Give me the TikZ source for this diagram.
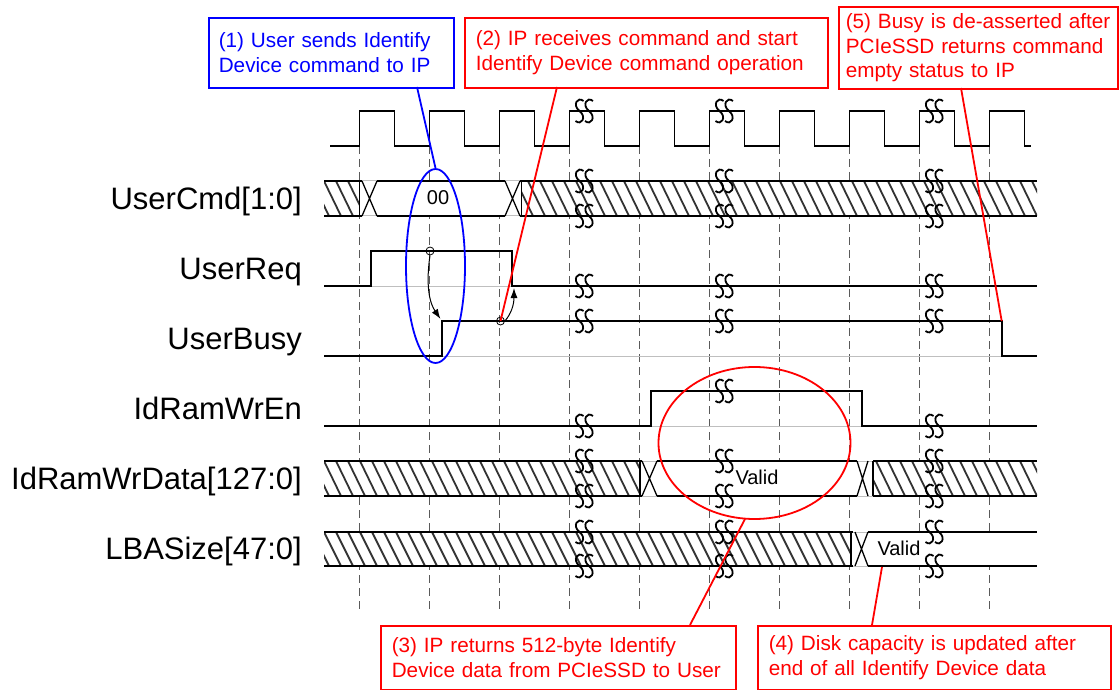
\documentclass[tikz,border=0pt]{standalone}
\usepackage{fontspec}
\setmainfont{Liberation Sans}
\usetikzlibrary{shapes.geometric,arrows.meta}
\tikzset{
  sig/.style={black, line width=1.8pt},
  gridline/.style={draw={rgb,255:red,90;green,90;blue,90}, line width=1.8pt, dash pattern=on 8pt off 5pt},
  baseln/.style={draw=black!25, line width=1pt},
  hatchline/.style={draw=black!80, line width=1.8pt},
  brkline/.style={black, line width=1.8pt},
  siglabel/.style={anchor=base east, inner sep=0pt, font=\fontsize{31}{35}\selectfont},
  busval/.style={inner sep=0pt, font=\fontsize{20}{22}\selectfont},
  callout/.style={line width=1.6pt, anchor=north west, align=left, inner ysep=0pt,
    font=\fontsize{20.7}{24.5}\selectfont},
  marker/.style={draw=black, line width=0.8pt, fill=none},
  evarrow/.style={black, line width=1pt, -{Latex[length=10pt,width=7pt]}},
  redline/.style={red, line width=1.8pt},
  blueline/.style={blue, line width=1.8pt}
}
\newcommand\hatchbox[4]{%
  \fill[white] (#1,#3) rectangle (#2,#4);
  \begin{scope}
    \clip (#1,#3) rectangle (#2,#4);
    \foreach \hx in {300,312,...,1044} \draw[hatchline] (\hx,#3) -- (\hx+17,#4);
  \end{scope}}
\newcommand\brkS[2]{\draw[brkline] (#1+4,#2-10) .. controls (#1-2,#2-15) and (#1-7.5,#2-6) .. (#1,#2) .. controls (#1+7.5,#2+6) and (#1+2,#2+15) .. (#1-4,#2+10);}
\newcommand\brks[2]{\brkS{#1+10}{#2}\brkS{#1+19.5}{#2}}
\begin{document}
\begin{tikzpicture}[x=1pt,y=-1pt]
\useasboundingbox (0,0) rectangle (1120,690);

% grid lines at rising clock edges
\foreach \k in {0,...,9} \draw[gridline] (359.5+70*\k,146) -- (359.5+70*\k,612);

% clock
\draw[sig] (330,146) \foreach \k in {0,...,9} { -- (359.5+70*\k,146) -- (359.5+70*\k,111) -- (394.5+70*\k,111) -- (394.5+70*\k,146) } -- (1031,146);

% ---------- UserCmd[1:0]  (181 .. 216)
\hatchbox{324}{359.5}{181}{216}
\hatchbox{521.5}{1037}{181}{216}
\fill[white] (359.5,181) rectangle (521.5,216);
\draw[baseln] (359.5,181) -- (521.5,181) (359.5,216) -- (521.5,216);
\draw[sig] (324,181) -- (362,181) (377,181) -- (505,181) (520,181) -- (1037,181);
\draw[sig] (324,216) -- (362,216) (377,216) -- (505,216) (520,216) -- (1037,216);
\draw[sig] (359.5,181) -- (359.5,216) (521.5,181) -- (521.5,216);
\draw[sig, line width=1.3pt] (362,181) -- (377,216) (362,216) -- (377,181);
\draw[sig, line width=1.3pt] (505,181) -- (520,216) (505,216) -- (520,181);
\node[busval] (v00) at (438,198) {00};

% ---------- UserReq (low 286, high 251)
\draw[baseln] (371,286) -- (511.7,286);
\draw[sig] (324,286) -- (371,286) -- (371,251) -- (511.7,251) -- (511.7,286) -- (1037,286);

% ---------- UserBusy (low 356, high 321)
\draw[baseln] (441.7,356) -- (1001.7,356);
\draw[sig] (324,356) -- (441.7,356) -- (441.7,321) -- (1001.7,321) -- (1001.7,356) -- (1037,356);

% ---------- IdRamWrEn (low 426, high 391)
\draw[baseln] (651,426) -- (861.7,426);
\draw[sig] (324,426) -- (651,426) -- (651,391) -- (861.7,391) -- (861.7,426) -- (1037,426);

% ---------- IdRamWrData[127:0] (461 .. 496)
\hatchbox{324}{640}{461}{496}
\hatchbox{873}{1037}{461}{496}
\fill[white] (640,461) rectangle (873,496);
\draw[baseln] (640,461) -- (873,461) (640,496) -- (873,496);
\draw[sig] (324,461) -- (642,461) (657,461) -- (857,461) (873,461) -- (1037,461);
\draw[sig] (324,496) -- (642,496) (657,496) -- (857,496) (873,496) -- (1037,496);
\draw[sig] (640,461) -- (640,496) (873,461) -- (873,496);
\draw[sig, line width=1.3pt] (642,461) -- (657,496) (642,496) -- (657,461);
\draw[sig, line width=1.3pt] (857,461) -- (868,496) (857,496) -- (868,461);
\node[busval] (vdata) at (757,477) {Valid};

% ---------- LBASize[47:0] (532 .. 566)
\hatchbox{324}{850.7}{532}{566}
\fill[white] (850.7,532) rectangle (1037,566);
\draw[baseln] (850.7,532) -- (868,532) (850.7,566) -- (868,566);
\draw[sig] (324,532) -- (853,532) (868,532) -- (1037,532);
\draw[sig] (324,566) -- (853,566) (868,566) -- (1037,566);
\draw[sig] (850.7,532) -- (850.7,566);
\draw[sig, line width=1.3pt] (855,532) -- (868,566) (855,566) -- (868,532);
\node[busval] (vlba) at (899,548) {Valid};

% ---------- break symbols
\foreach \e in {569.5,709.5,919.5} {
  \brks{\e}{111}
  \brks{\e}{181}
  \brks{\e}{216}
  \brks{\e}{286}
  \brks{\e}{321}
  \brks{\e}{461}
  \brks{\e}{496}
  \brks{\e}{532}
  \brks{\e}{566}
}
\brks{569.5}{426}
\brks{709.5}{391}
\brks{919.5}{426}

% ---------- signal labels
\node[siglabel] (lcmd)  at (302,209) {UserCmd[1:0]};
\node[siglabel] (lreq)  at (302,279) {UserReq};
\node[siglabel] (lbusy) at (302,349) {UserBusy};
\node[siglabel] (lwren) at (302,419) {IdRamWrEn};
\node[siglabel] (lwrd)  at (302,489) {IdRamWrData[127:0]};
\node[siglabel] (llba)  at (302,559) {LBASize[47:0]};

% ---------- markers and cause arrows
\node[marker, circle, minimum size=8pt, inner sep=0pt] (mreq) at (430,251) {};
\node[marker, circle, minimum size=8pt, inner sep=0pt] (mbusy) at (500.5,321) {};
\coordinate (tbusy) at (440.5,319);
\coordinate (treq) at (514,288);
\draw[evarrow] (mreq.south) .. controls (425,290) and (431,305) .. (tbusy);
\draw[evarrow] (mbusy.east) .. controls (511,314) and (514,305) .. (treq);

% ---------- highlight ellipses
\node[draw=blue, line width=1.8pt, ellipse, minimum width=59pt, minimum height=194pt, inner sep=0pt] (ell1) at (435.5,266) {};
\node[draw=red, line width=1.8pt, ellipse, minimum width=192pt, minimum height=152pt, inner sep=0pt] (ell3) at (754.5,443) {};

% ---------- callouts
\node[callout, draw=blue, text=blue, text width=225pt, inner xsep=10pt, minimum height=70pt] (c1) at (208,17)
  {(1) User sends Identify\\Device command to IP};
\node[callout, draw=red, text=red, text width=341pt, inner xsep=11pt, minimum height=70pt] (c2) at (464,17)
  {(2) IP receives command and start\\Identify Device command operation};
\node[callout, draw=red, text=red, text width=265pt, inner xsep=7pt, minimum height=82pt] (c5) at (838,6)
  {(5) Busy is de-asserted after\\PCIeSSD returns command\\empty status to IP};
\node[callout, draw=red, text=red, text width=333pt, inner xsep=11pt, minimum height=64pt] (c3) at (380,625)
  {(3) IP returns 512-byte Identify\\Device data from PCIeSSD to User};
\node[callout, draw=red, text=red, text width=331pt, inner xsep=11pt, minimum height=64pt] (c4) at (757,625)
  {(4) Disk capacity is updated after\\end of all Identify Device data};

% ---------- callout pointers
\coordinate (p1) at (417,87);
\coordinate (p2) at (557,87);
\coordinate (p5) at (961,88);
\coordinate (p3) at (690,625);
\coordinate (p4) at (872,625);
\coordinate (e3) at (745,519);
\coordinate (q4) at (882,567);
\coordinate (q5) at (1001.7,321);
\draw[blueline] (p1) -- (ell1.north);
\draw[redline] (p2) -- (mbusy.center);
\draw[redline] (p5) -- (q5);
\draw[redline] (p3) -- (e3);
\draw[redline] (p4) -- (q4);
\end{tikzpicture}
\end{document}
